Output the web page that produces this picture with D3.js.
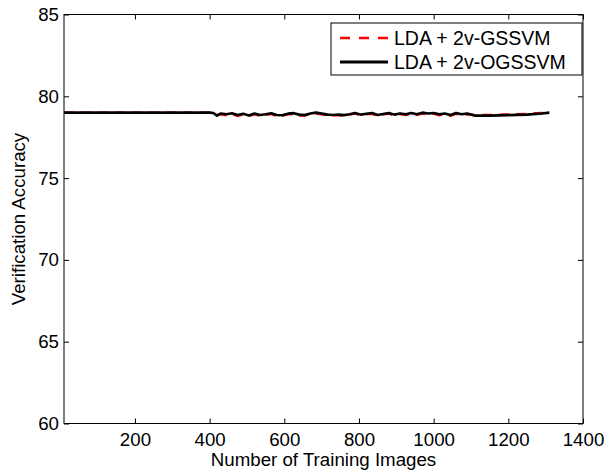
<!DOCTYPE html>
<html>
<head>
<meta charset="utf-8">
<script src="https://cdn.jsdelivr.net/npm/d3@7"></script>
<style>
  body { margin: 0; background: #fff; }
  svg { font-family: "Liberation Sans", Arial, sans-serif; }
</style>
</head>
<body>
<svg id="chart" width="613" height="476"></svg>
<script>
// training set sizes (x) shared by both series
var trainSizes = [10, 100, 200, 300, 400, 410, 420,
    430, 445, 460, 475, 490, 505, 520, 535, 550, 565,
    580, 595, 610, 625, 640, 655, 670, 685, 700, 715,
    730, 745, 760, 775, 790, 805, 820, 835, 850, 865,
    880, 895, 910, 925, 940, 955, 970, 985, 1000, 1015,
    1030, 1045, 1060, 1075, 1090,
    1110, 1150, 1200, 1250, 1290, 1310];

var gssvm = [79.0, 79.0, 79.0, 79.0, 79.0, 78.98, 78.86,
    78.90, 78.84, 78.93, 78.80, 78.89, 78.80, 78.90, 78.81, 78.87, 78.92,
    78.80, 78.82, 78.90, 78.93, 78.82, 78.83, 78.92, 78.95, 78.90, 78.83,
    78.84, 78.84, 78.81, 78.88, 78.94, 78.83, 78.90, 78.93, 78.81, 78.90,
    78.94, 78.83, 78.92, 78.86, 78.93, 78.87, 78.95, 78.90, 78.95, 78.85,
    78.91, 78.81, 78.93, 78.86, 78.90,
    78.84, 78.86, 78.89, 78.92, 78.98, 79.02];

var ogssvm = [79.0, 79.0, 79.0, 79.0, 79.0, 78.98, 78.82,
    78.95, 78.90, 78.96, 78.86, 78.93, 78.83, 78.95, 78.86, 78.90, 78.96,
    78.86, 78.84, 78.94, 78.97, 78.88, 78.85, 78.95, 79.00, 78.95, 78.88,
    78.86, 78.89, 78.85, 78.90, 78.98, 78.88, 78.93, 78.98, 78.86, 78.92,
    78.98, 78.88, 78.95, 78.90, 78.98, 78.90, 79.00, 78.95, 78.98, 78.90,
    78.95, 78.86, 78.98, 78.90, 78.95,
    78.82, 78.82, 78.85, 78.88, 78.95, 79.00];

var xTicks = [200, 400, 600, 800, 1000, 1200, 1400];
var yTicks = [60, 65, 70, 75, 80, 85];

var seriesNames = ['LDA + 2v-GSSVM', 'LDA + 2v-OGSSVM'];

var svg = d3.select('#chart');
var plotLeft = 64, plotTop = 14.5, plotRight = 583, plotBottom = 423.5;

var x = d3.scaleLinear().domain([10, 1400]).range([plotLeft, plotRight]);
var y = d3.scaleLinear().domain([60, 85]).range([plotBottom, plotTop]);

var fontSize = '18.7px';

function styleAxis(g) {
    g.select('.domain').remove();
    g.selectAll('line').attr('stroke', '#000').attr('stroke-width', 1);
    g.selectAll('text').style('font-size', fontSize).attr('fill', '#000');
}

svg.append('g')
    .attr('transform', `translate(0, ${plotBottom})`)
    .call(d3.axisBottom(x).tickValues(xTicks).tickFormat(d3.format('d'))
        .tickSize(-5).tickSizeOuter(0).tickPadding(9))
    .call(styleAxis);

svg.append('g')
    .attr('transform', `translate(0, ${plotTop})`)
    .call(d3.axisTop(x).tickValues(xTicks).tickSize(-5).tickSizeOuter(0).tickFormat(''))
    .call(styleAxis);

svg.append('g')
    .attr('transform', `translate(${plotLeft}, 0)`)
    .call(d3.axisLeft(y).tickValues(yTicks).tickSize(-5).tickSizeOuter(0).tickPadding(5))
    .call(styleAxis);

svg.append('g')
    .attr('transform', `translate(${plotRight}, 0)`)
    .call(d3.axisRight(y).tickValues(yTicks).tickSize(-5).tickSizeOuter(0).tickFormat(''))
    .call(styleAxis);

svg.append('rect')
    .attr('x', plotLeft)
    .attr('y', plotTop)
    .attr('width', plotRight - plotLeft)
    .attr('height', plotBottom - plotTop)
    .attr('fill', 'none')
    .attr('stroke', '#000')
    .attr('stroke-width', 1);

var line = d3.line()
    .x(d => x(d[0]))
    .y(d => y(d[1]));

svg.append('path')
    .datum(trainSizes.map((t, i) => [t, gssvm[i]]))
    .attr('d', line)
    .attr('fill', 'none')
    .attr('stroke', '#ff0000')
    .attr('stroke-width', 2.5)
    .attr('stroke-dasharray', '10,7');

svg.append('path')
    .datum(trainSizes.map((t, i) => [t, ogssvm[i]]))
    .attr('d', line)
    .attr('fill', 'none')
    .attr('stroke', '#000')
    .attr('stroke-width', 2.6)
    .attr('stroke-linejoin', 'round');

// legend
var legend = svg.append('g').attr('transform', 'translate(331, 23)');
legend.append('rect')
    .attr('width', 251)
    .attr('height', 52)
    .attr('fill', '#fff')
    .attr('stroke', '#000')
    .attr('stroke-width', 1);

var legendStyles = [
    {color: '#ff0000', dash: '10,9', width: 2.5},
    {color: '#000', dash: null, width: 2.8}
];

seriesNames.forEach((name, i) => {
    var cy = 15 + i * 24;
    legend.append('line')
        .attr('x1', 9).attr('x2', 57)
        .attr('y1', cy).attr('y2', cy)
        .attr('stroke', legendStyles[i].color)
        .attr('stroke-width', legendStyles[i].width)
        .attr('stroke-dasharray', legendStyles[i].dash);
    legend.append('text')
        .attr('x', 63)
        .attr('y', cy)
        .attr('dy', '0.35em')
        .style('font-size', '19.5px')
        .text(name);
});

svg.append('text')
    .attr('x', (plotLeft + plotRight) / 2)
    .attr('y', 466)
    .style('font-size', fontSize)
    .style('text-anchor', 'middle')
    .text('Number of Training Images');

svg.append('text')
    .attr('transform', `translate(25, ${(plotTop + plotBottom) / 2}) rotate(-90)`)
    .style('font-size', fontSize)
    .style('text-anchor', 'middle')
    .text('Verification Accuracy');
</script>
</body>
</html>
